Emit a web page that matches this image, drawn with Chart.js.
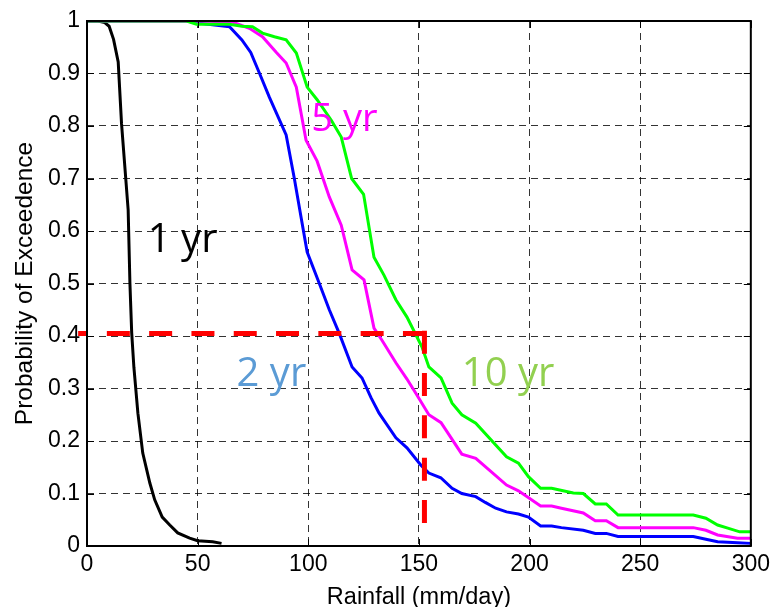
<!DOCTYPE html>
<html lang="en">
<head>
    <meta charset="UTF-8">
    <title>Probability of Exceedence</title>
    <script src="https://cdn.jsdelivr.net/npm/chart.js"></script>
    <style>
        body {
            margin: 0;
            background: white;
        }
        #wrap {
            width: 775px;
            height: 607px;
        }
    </style>
</head>
<body>
    <div id="wrap"><canvas id="chart" width="775" height="607"></canvas></div>
    <script>
        // values (rainfall mm/day, probability)
        const xTicks = [0, 50, 100, 150, 200, 250, 300];
        const yTicks = [0, 0.1, 0.2, 0.3, 0.4, 0.5, 0.6, 0.7, 0.8, 0.9, 1];

        const rain1yr = [0, 5, 8, 10, 12, 14.1, 15.6, 18.6, 19.4, 20.2, 21.2, 23, 25.2, 28.4, 30.6, 34, 37.4, 41, 46.4, 50, 56.8, 60.8];
        const prob1yr = [1, 1, 0.997, 0.99, 0.965, 0.922, 0.805, 0.64, 0.5, 0.406, 0.34, 0.253, 0.177, 0.12, 0.088, 0.055, 0.04, 0.025, 0.015, 0.01, 0.008, 0.005];

        const rain2yr = [0, 45, 50, 64.4, 70, 74, 78, 82.4, 90, 93.7, 97, 99.5, 105, 109.5, 114, 119.8, 124.3, 128.4, 132, 139.6, 144.6, 150.9, 154.5, 159.9, 165, 169.4, 175.7, 180, 184.7, 189.6, 195, 199.5, 205, 210, 214.4, 224.3, 229.7, 234.7, 240, 274, 279.7, 285, 294, 300];
        const prob2yr = [1, 1, 0.996, 0.989, 0.964, 0.94, 0.9, 0.855, 0.783, 0.7, 0.62, 0.56, 0.5, 0.45, 0.405, 0.341, 0.32, 0.282, 0.253, 0.206, 0.187, 0.154, 0.139, 0.13, 0.11, 0.1, 0.094, 0.083, 0.072, 0.065, 0.061, 0.055, 0.038, 0.038, 0.035, 0.03, 0.024, 0.024, 0.018, 0.018, 0.013, 0.008, 0.006, 0.005];

        const rain5yr = [0, 50, 65.8, 73.4, 79.3, 85.6, 90, 94.6, 99, 104, 109.5, 114.9, 119.8, 125.2, 129.7, 133.3, 139.6, 144.6, 148.6, 154.5, 160, 169.4, 175.7, 189.6, 195, 205, 210, 214.4, 224.3, 229.7, 234.7, 240, 274, 279.7, 285, 294, 300];
        const prob5yr = [1, 1, 0.998, 0.986, 0.97, 0.94, 0.92, 0.874, 0.773, 0.733, 0.665, 0.611, 0.526, 0.507, 0.415, 0.392, 0.349, 0.318, 0.291, 0.25, 0.235, 0.175, 0.167, 0.116, 0.105, 0.076, 0.076, 0.072, 0.063, 0.048, 0.048, 0.035, 0.035, 0.03, 0.021, 0.015, 0.015];

        const rain10yr = [0, 45, 49.5, 64.4, 70, 74.8, 79.3, 84.7, 90, 94.6, 99.5, 104, 110.4, 114.9, 119.6, 125, 129.7, 134.2, 139.6, 144.6, 151.4, 154.5, 160, 165, 169.4, 175.7, 189.6, 195, 199.5, 205, 210, 219.8, 224.3, 229.7, 234.7, 240, 274, 279.7, 285, 289.6, 295, 300];
        const prob10yr = [1, 1, 0.994, 0.994, 0.99, 0.989, 0.977, 0.97, 0.964, 0.939, 0.874, 0.85, 0.811, 0.779, 0.7, 0.67, 0.55, 0.516, 0.469, 0.436, 0.379, 0.341, 0.32, 0.272, 0.25, 0.234, 0.17, 0.158, 0.132, 0.11, 0.11, 0.101, 0.1, 0.08, 0.08, 0.059, 0.059, 0.053, 0.04, 0.034, 0.027, 0.027];

        // red guide: 40% exceedence at ~152 mm/day (drawn as two strokes)
        const guideHRain = [-4, 152.5];
        const guideHProb = [0.405, 0.405];
        const guideVRain = [152.5, 152.5];
        const guideVProb = [0.41, 0.044];

        const curveNames = ["1 yr", "2 yr", "5 yr", "10 yr"];

        function pts(xs, ys) {
            return xs.map((x, i) => ({ x: x, y: ys[i] }));
        }

        // text labels placed in data units (left edge, baseline)
        const notes = [
            { text: "1 yr", x: 27.5, y: 0.56, color: "#000000", size: 40 },
            { text: "5 yr", x: 101.4, y: 0.79, color: "#ff00ff", size: 38 },
            { text: "2 yr", x: 67.6, y: 0.305, color: "#5b9bd5", size: 40 },
            { text: "10 yr", x: 169.4, y: 0.305, color: "#92d050", size: 40 }
        ];

        const framePlugin = {
            id: "frame",
            afterDraw(chart) {
                const { ctx, chartArea: a, scales } = chart;
                ctx.save();
                ctx.strokeStyle = "#000";
                ctx.lineWidth = 2;
                ctx.setLineDash([]);
                ctx.strokeRect(a.left, a.top, a.right - a.left, a.bottom - a.top);
                ctx.lineWidth = 1;
                const tl = 7;
                ctx.beginPath();
                xTicks.forEach(v => {
                    const px = Math.round(scales.x.getPixelForValue(v)) + 0.5;
                    ctx.moveTo(px, a.bottom); ctx.lineTo(px, a.bottom - tl);
                    ctx.moveTo(px, a.top); ctx.lineTo(px, a.top + tl);
                });
                yTicks.forEach(v => {
                    const py = Math.round(scales.y.getPixelForValue(v)) + 0.5;
                    ctx.moveTo(a.left, py); ctx.lineTo(a.left + tl, py);
                    ctx.moveTo(a.right, py); ctx.lineTo(a.right - tl, py);
                });
                ctx.stroke();

                ctx.textAlign = "left";
                ctx.textBaseline = "alphabetic";
                notes.forEach(n => {
                    ctx.font = n.size + "px 'Open Sans'";
                    ctx.fillStyle = n.color;
                    ctx.fillText(n.text, scales.x.getPixelForValue(n.x), scales.y.getPixelForValue(n.y));
                });
                ctx.restore();
            }
        };

        const tickFont = { family: "'Liberation Sans', Arial, sans-serif", size: 23 };

        new Chart(document.getElementById("chart"), {
            type: "line",
            data: {
                datasets: [
                    { label: "guide", data: pts(guideHRain, guideHProb), clip: false, borderColor: "#ff0000", borderWidth: 5, borderDash: [23, 19.3], borderDashOffset: 13.6, borderCapStyle: "butt" },
                    { label: "guide", data: pts(guideVRain, guideVProb), clip: false, borderColor: "#ff0000", borderWidth: 5, borderDash: [23, 19.3], borderDashOffset: 0, borderCapStyle: "butt" },
                    { label: curveNames[3], data: pts(rain10yr, prob10yr), borderColor: "#00ff00", borderWidth: 3 },
                    { label: curveNames[2], data: pts(rain5yr, prob5yr), borderColor: "#ff00ff", borderWidth: 3 },
                    { label: curveNames[1], data: pts(rain2yr, prob2yr), borderColor: "#0000ff", borderWidth: 3 },
                    { label: curveNames[0], data: pts(rain1yr, prob1yr), borderColor: "#000000", borderWidth: 3 }
                ]
            },
            options: {
                responsive: false,
                animation: false,
                layout: { padding: { top: 21, right: 22, left: 0, bottom: 0 } },
                elements: {
                    point: { radius: 0 },
                    line: { tension: 0, fill: false }
                },
                plugins: {
                    legend: { display: false },
                    tooltip: { enabled: false }
                },
                scales: {
                    x: {
                        type: "linear",
                        min: 0,
                        max: 300,
                        afterBuildTicks: s => { s.ticks = xTicks.map(v => ({ value: v })); },
                        afterFit: s => { s.height = 61; },
                        ticks: { font: tickFont, color: "#000", padding: 5, maxRotation: 0 },
                        grid: { color: "rgba(0,0,0,0.8)", lineWidth: 1, drawTicks: false },
                        border: { display: false, dash: [7, 5] },
                        title: { display: true, text: "Rainfall (mm/day)", font: { family: tickFont.family, size: 23.5 }, color: "#000", padding: { top: 0, bottom: -5 } }
                    },
                    y: {
                        type: "linear",
                        min: 0,
                        max: 1,
                        afterBuildTicks: s => { s.ticks = yTicks.map(v => ({ value: v })); },
                        afterFit: s => { s.width = 87; },
                        ticks: { font: tickFont, color: "#000", padding: 7, callback: v => String(Math.round(v * 10) / 10) },
                        grid: { color: "rgba(0,0,0,0.8)", lineWidth: 1, drawTicks: false },
                        border: { display: false, dash: [7, 5] },
                        title: { display: true, text: "Probability of Exceedence", font: { family: tickFont.family, size: 24.5 }, color: "#000", padding: { top: 11, bottom: 0 } }
                    }
                }
            },
            plugins: [framePlugin]
        });
    </script>
</body>
</html>
